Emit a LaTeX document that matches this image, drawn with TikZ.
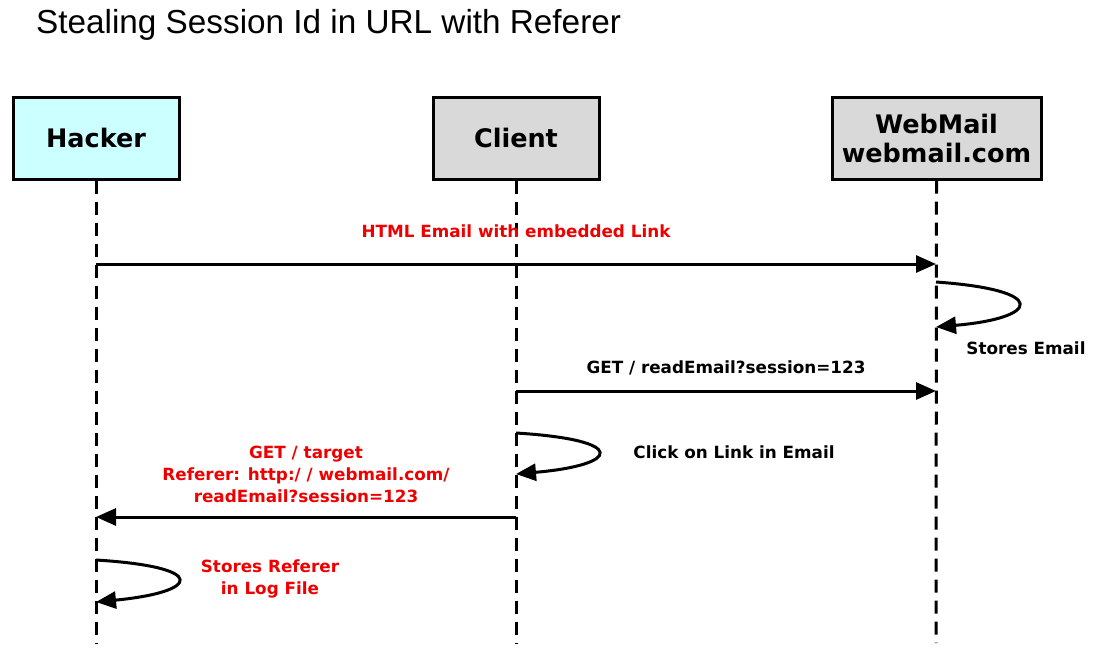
\documentclass[tikz,border=0pt]{standalone}
\usepackage{fontspec}
\setmainfont{DejaVu Sans}
\newfontfamily\titlefont{Liberation Sans}
\usetikzlibrary{arrows.meta}
\definecolor{cyanfill}{HTML}{CCFFFF}
\definecolor{grayfill}{HTML}{D9D9D9}
\definecolor{lblred}{HTML}{EE0000}
\tikzset{
  actor/.style={draw=black, line width=3pt, minimum width=166pt, minimum height=82pt, align=center, font=\fontsize{25.5}{29}\selectfont\bfseries, inner sep=0pt},
  life/.style={line width=3pt, dash pattern=on 13pt off 8pt},
  msg/.style={line width=3pt, -{Triangle[length=20pt,width=17pt]}},
  lbl/.style={font=\fontsize{16.8}{22}\selectfont\bfseries, align=center, inner sep=0pt},
  redlbl/.style={lbl, text=lblred}
}
\begin{document}
\begin{tikzpicture}[x=1pt,y=-1pt]
\useasboundingbox (0,0) rectangle (1097,653);
\node[anchor=west, inner sep=0pt, font=\titlefont\fontsize{33.3}{36}\selectfont] (title) at (36,25) {Stealing Session Id in URL with Referer};
\node[actor, fill=cyanfill] (hacker) at (96,138) {Hacker};
\node[actor, fill=grayfill] (client) at (516,138) {Client};
\node[actor, fill=grayfill, minimum width=209pt] (webmail) at (936.5,138) {WebMail\\webmail.com};
\coordinate (hend) at (96,643);
\coordinate (cend) at (516,643);
\coordinate (wend) at (936,643);
\draw[life] (hacker.south) -- (hend);
\draw[life] (client.south) -- (cend);
\draw[life] (webmail.south) -- (wend);
% message 1
\coordinate (h1) at (96,264);
\coordinate (w1) at (936,264);
\draw[msg] (h1) -- (w1);
\node[redlbl] (l1) at (516,231) {HTML Email with embedded Link};
% self loop webmail
\coordinate (w2a) at (936,282);
\coordinate (w2b) at (936,327);
\draw[msg] (w2a) .. controls (1050,290) and (1040,318) .. (w2b);
\node[lbl] (l2) at (1026,348) {Stores Email};
% message 3
\coordinate (c3) at (516,391);
\coordinate (w3) at (936,391);
\draw[msg] (c3) -- (w3);
\node[lbl] (l3) at (726,368) {GET / readEmail?session=123};
% self loop client
\coordinate (c4a) at (516,433);
\coordinate (c4b) at (516,474);
\draw[msg] (c4a) .. controls (630,440) and (620,465) .. (c4b);
\node[lbl] (l4) at (734,452) {Click on Link in Email};
% message 5
\coordinate (c5) at (516,517);
\coordinate (h5) at (96,517);
\draw[msg] (c5) -- (h5);
\node[redlbl] (l5) at (306,474) {GET / target\\Referer: http:/ / webmail.com/\\readEmail?session=123};
% self loop hacker
\coordinate (h6a) at (96,560);
\coordinate (h6b) at (96,602);
\draw[msg] (h6a) .. controls (210,567) and (200,592) .. (h6b);
\node[redlbl] (l6) at (270,579) {Stores Referer\\in Log File};
\end{tikzpicture}
\end{document}
